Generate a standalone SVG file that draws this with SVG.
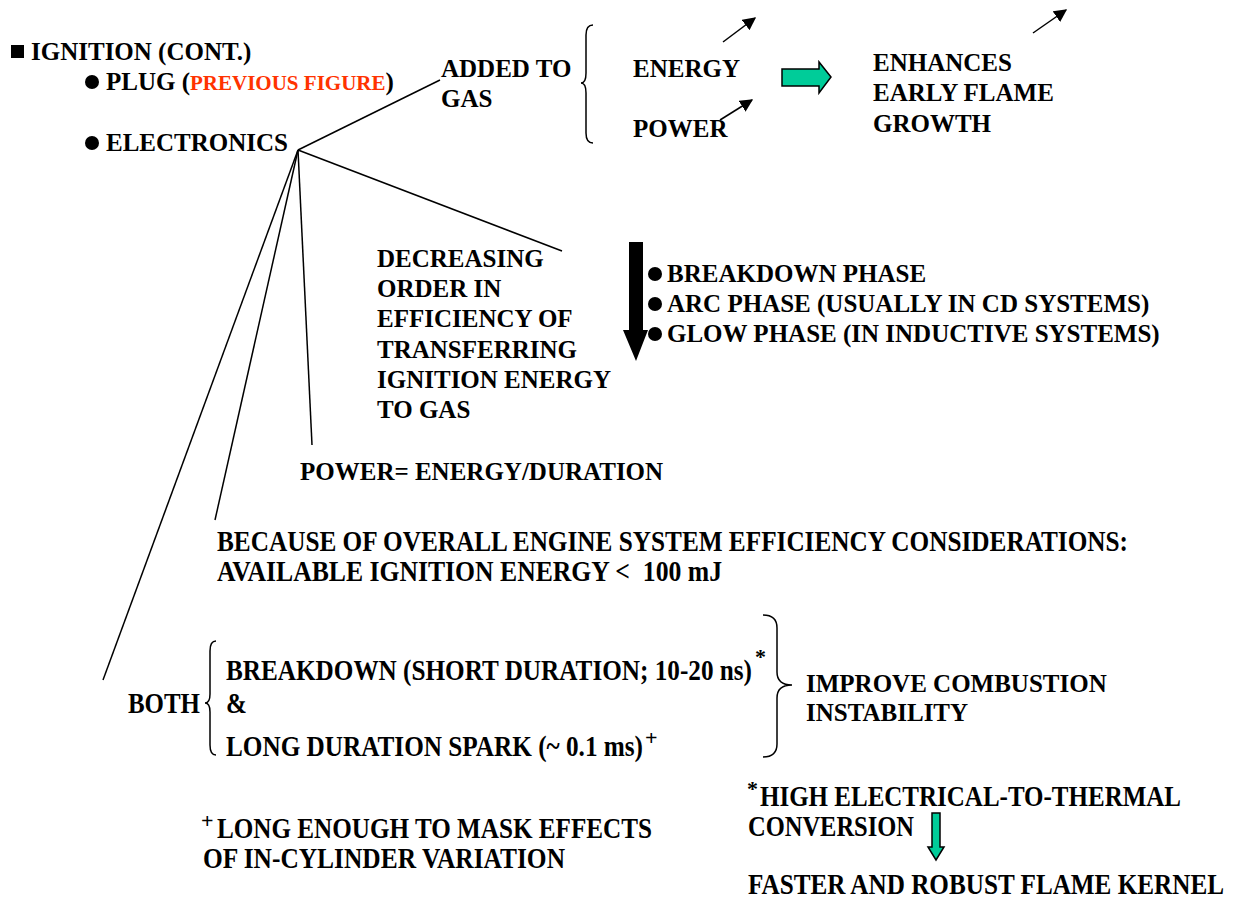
<svg xmlns="http://www.w3.org/2000/svg" width="1238" height="899" viewBox="0 0 1238 899">
<style>
text{font-family:"Liberation Serif","Times New Roman",serif;font-weight:bold;fill:#000;font-size:25px}
.red{fill:#FF3300;font-size:21px}
.c{font-size:25px}
.sup{font-size:22px}
.ln{stroke:#000;stroke-width:1.5;fill:none}
.br{stroke:#000;stroke-width:1.5;fill:none}
.green{fill:#00CC99;stroke:#000;stroke-width:1.5}
</style>
<defs>
<marker id="ah2" viewBox="0 0 10 10" refX="9" refY="5" markerWidth="13" markerHeight="13" markerUnits="userSpaceOnUse" orient="auto">
<path d="M0,0 L10,5 L0,10 z" fill="#000"/>
</marker>
</defs>
<rect width="1238" height="899" fill="#fff"/>

<g id="title">
<rect x="11" y="45" width="13" height="13" fill="#000"/>
<text x="31" y="60">IGNITION (CONT.)</text>
</g>
<g id="plug">
<circle cx="92" cy="82" r="7" fill="#000"/>
<text x="106" y="90">PLUG (<tspan class="red">PREVIOUS FIGURE</tspan>)</text>
</g>
<g id="electronics">
<circle cx="92" cy="143" r="7" fill="#000"/>
<text x="106" y="151">ELECTRONICS</text>
</g>

<g id="connectors">
<line class="ln" x1="298" y1="150" x2="440" y2="80"/>
<line class="ln" x1="298" y1="150" x2="562" y2="251"/>
<line class="ln" x1="298" y1="150" x2="312" y2="445"/>
<line class="ln" x1="298" y1="150" x2="215" y2="520"/>
<line class="ln" x1="298" y1="150" x2="103" y2="680"/>
<line class="ln" x1="723" y1="42" x2="755" y2="18" marker-end="url(#ah2)"/>
<line class="ln" x1="720" y1="120" x2="752" y2="100" marker-end="url(#ah2)"/>
<line class="ln" x1="1033" y1="33" x2="1066" y2="10" marker-end="url(#ah2)"/>
<polygon class="green" points="782,69 819,69 819,62 831,77 819,93 819,86 782,86"/>
<polygon points="629,242 643,242 643,330 648,330 636,361 623,330 629,330" fill="#000"/>
<polygon class="green" points="932,813 940,813 940,847 944,847 936,860 928,847 932,847"/>
</g>

<g id="added">
<text x="441" y="77">ADDED TO</text>
<text x="441" y="107">GAS</text>
<path class="br" d="M593,25 Q586,25 586,35 L586,73 Q586,83 581,83 Q586,83 586,93 L586,133 Q586,143 593,143"/>
</g>
<g id="energy"><text x="633" y="77">ENERGY</text></g>
<g id="power"><text x="633" y="137">POWER</text></g>
<g id="enhances">
<text x="873" y="71">ENHANCES</text>
<text x="873" y="101">EARLY FLAME</text>
<text x="873" y="132">GROWTH</text>
</g>

<g id="decreasing">
<text x="377" y="267">DECREASING</text>
<text x="377" y="297">ORDER IN</text>
<text x="377" y="327">EFFICIENCY OF</text>
<text x="377" y="358">TRANSFERRING</text>
<text x="377" y="388">IGNITION ENERGY</text>
<text x="377" y="418">TO GAS</text>
</g>
<g id="phases">
<circle cx="655" cy="274" r="7" fill="#000"/>
<text x="667" y="282">BREAKDOWN PHASE</text>
<circle cx="655" cy="304" r="7" fill="#000"/>
<text x="667" y="312">ARC PHASE (USUALLY IN CD SYSTEMS)</text>
<circle cx="655" cy="334" r="7" fill="#000"/>
<text x="667" y="342">GLOW PHASE (IN INDUCTIVE SYSTEMS)</text>
</g>

<g id="powerdef"><text x="300" y="480">POWER= ENERGY/DURATION</text></g>

<g id="because">
<text class="c" transform="translate(217,551) scale(1,1.18)" textLength="911" lengthAdjust="spacingAndGlyphs">BECAUSE OF OVERALL ENGINE SYSTEM EFFICIENCY CONSIDERATIONS:</text>
<text class="c" transform="translate(217,581) scale(1,1.18)" textLength="505" lengthAdjust="spacingAndGlyphs" xml:space="preserve">AVAILABLE IGNITION ENERGY &lt;  100 mJ</text>
</g>

<g id="both">
<text class="c" transform="translate(128,713) scale(1,1.18)" textLength="72" lengthAdjust="spacingAndGlyphs">BOTH</text>
<path class="br" d="M216,641 Q210,641 210,651 L210,694 Q210,703 205,703 Q210,703 210,712 L210,745 Q210,755 216,755"/>
<text class="c" transform="translate(226,680) scale(1,1.18)" textLength="526" lengthAdjust="spacingAndGlyphs">BREAKDOWN (SHORT DURATION; 10-20 ns)</text>
<text class="sup" x="755" y="664">*</text>
<text class="c" transform="translate(226,713) scale(1,1.18)">&amp;</text>
<text class="c" transform="translate(226,756) scale(1,1.18)" textLength="417" lengthAdjust="spacingAndGlyphs">LONG DURATION SPARK (~ 0.1 ms)</text>
<text class="sup" x="645" y="745">+</text>
<path class="br" d="M763,615 Q777,615 777,628 L777,672 Q777,685 792,685 Q777,685 777,698 L777,744 Q777,757 763,757"/>
</g>
<g id="improve">
<text x="806" y="692">IMPROVE COMBUSTION</text>
<text x="806" y="721">INSTABILITY</text>
</g>

<g id="longenough">
<text class="sup" x="201" y="828">+</text>
<text class="c" transform="translate(217,838) scale(1,1.18)" textLength="435" lengthAdjust="spacingAndGlyphs">LONG ENOUGH TO MASK EFFECTS</text>
<text class="c" transform="translate(203,868) scale(1,1.18)" textLength="362" lengthAdjust="spacingAndGlyphs">OF IN-CYLINDER VARIATION</text>
</g>
<g id="high">
<text class="sup" x="747" y="796">*</text>
<text class="c" transform="translate(760,806) scale(1,1.18)" textLength="421" lengthAdjust="spacingAndGlyphs">HIGH ELECTRICAL-TO-THERMAL</text>
<text class="c" transform="translate(748,836) scale(1,1.18)" textLength="166" lengthAdjust="spacingAndGlyphs">CONVERSION</text>
</g>
<g id="faster">
<text class="c" transform="translate(748,894) scale(1,1.18)" textLength="476" lengthAdjust="spacingAndGlyphs">FASTER AND ROBUST FLAME KERNEL</text>
</g>
</svg>
